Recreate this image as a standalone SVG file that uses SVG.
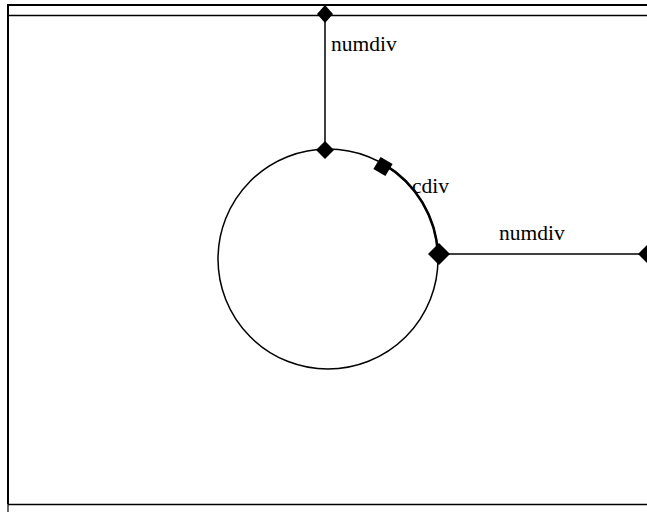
<svg xmlns="http://www.w3.org/2000/svg" width="647" height="512" viewBox="0 0 647 512">
<style>
.frame{stroke:#000;fill:none}
.conn{stroke:#000;stroke-width:1.5;fill:none}
.dia{fill:#000}
text{font-family:"Liberation Serif","Times New Roman",serif;font-size:21.5px;fill:#000}
</style>
<rect width="647" height="512" fill="#fff"/>
<g id="frame">
<line class="frame" x1="8" y1="5" x2="647" y2="5" stroke-width="2"/>
<line class="frame" x1="8" y1="4" x2="8" y2="504" stroke-width="2"/>
<line class="frame" x1="8" y1="15.5" x2="647" y2="15.5" stroke-width="1.6" stroke="#222"/>
<line class="frame" x1="8" y1="504.5" x2="647" y2="504.5" stroke-width="1.6" stroke="#333"/>
<line class="frame" x1="8" y1="504" x2="8" y2="512" stroke-width="1.2" stroke="#555"/>
</g>
<g id="circle-node">
<circle cx="328" cy="259" r="110" fill="none" stroke="#000" stroke-width="1.5"/>
</g>
<g id="connectors">
<line class="conn" x1="325" y1="15" x2="325" y2="150"/>
<line class="conn" x1="439" y1="254" x2="647" y2="254"/>
<path d="M384.1 164.4 A110 110 0 0 1 437.9 254" fill="none" stroke="#000" stroke-width="2.6"/>
</g>
<g id="top-port"><polygon class="dia" points="325,5 333,14 325,23 317,14"/></g>
<g id="circle-top-port"><polygon class="dia" points="325,141 334,150 325,159 316,150"/></g>
<g id="cdiv-port"><rect class="dia" x="-7" y="-7" width="14" height="14" transform="translate(383,166.5) rotate(31)"/></g>
<g id="circle-right-port"><polygon class="dia" points="439,243 450,254 439,265 428,254"/></g>
<g id="right-port"><polygon class="dia" points="647,245 638,254 647,263"/></g>
<g id="labels">
<text x="331" y="51">numdiv</text>
<text x="412" y="193">cdiv</text>
<text x="499" y="240">numdiv</text>
</g>
</svg>
